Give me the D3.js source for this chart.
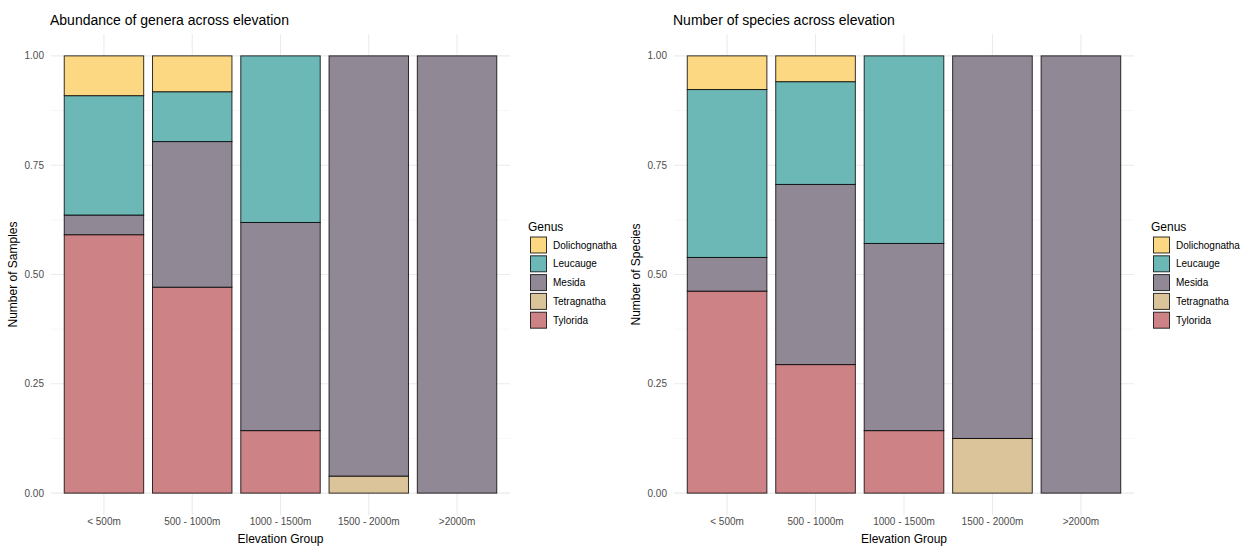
<!DOCTYPE html>
<html>
<head>
<meta charset="utf-8">
<script src="https://cdn.jsdelivr.net/npm/d3@7"></script>
<style>
  html, body { margin: 0; padding: 0; background: #fff; }
  svg { display: block; font-family: "Liberation Sans", Arial, sans-serif; }
</style>
</head>
<body>
<svg id="chart" width="1250" height="550"></svg>
<script>
// Elevation bands shown on the x axis
const elevations = ["< 500m", "500 - 1000m", "1000 - 1500m", "1500 - 2000m", ">2000m"];
// Genera, bottom of the stack first
const genera = ["Tylorida", "Tetragnatha", "Mesida", "Leucauge", "Dolichognatha"];
const legendOrder = ["Dolichognatha", "Leucauge", "Mesida", "Tetragnatha", "Tylorida"];
const genusColors = ["#cd8286", "#dbc39a", "#918896", "#6cb8b6", "#fdd882"];

// Proportion of samples per genus in each elevation band
const abundTylorida      = [0.591, 0.471, 0.143, 0.000, 0.000];
const abundTetragnatha   = [0.000, 0.000, 0.000, 0.039, 0.000];
const abundMesida        = [0.045, 0.333, 0.476, 0.961, 1.000];
const abundLeucauge      = [0.273, 0.114, 0.381, 0.000, 0.000];
const abundDolichognatha = [0.091, 0.082, 0.000, 0.000, 0.000];

// Proportion of species per genus in each elevation band
const richTylorida      = [0.462, 0.294, 0.143, 0.000, 0.000];
const richTetragnatha   = [0.000, 0.000, 0.000, 0.125, 0.000];
const richMesida        = [0.077, 0.412, 0.428, 0.875, 1.000];
const richLeucauge      = [0.384, 0.235, 0.429, 0.000, 0.000];
const richDolichognatha = [0.077, 0.059, 0.000, 0.000, 0.000];

const yTicks = [0, 0.25, 0.5, 0.75, 1];
const yTickLabels = ["0.00", "0.25", "0.50", "0.75", "1.00"];

function buildRows(series) {
  return elevations.map((e, i) => {
    const row = { elevation: e };
    genera.forEach(g => { row[g] = series[g][i]; });
    return row;
  });
}

const svg = d3.select("#chart");
const color = d3.scaleOrdinal().domain(genera).range(genusColors);

function drawPanel(opts) {
  const { x0, x1, y0, y1, title, yTitle, rows, legendX } = opts;
  const g = svg.append("g");

  const x = d3.scalePoint().domain(elevations).range([x0, x1]).padding(0.6);
  const step = x.step();
  const barW = step * 0.9;
  const span = (y1 - y0) / 1.1;
  const y = d3.scaleLinear().domain([0, 1]).range([y1 - span * 0.05, y0 + span * 0.05]);

  // minor grid
  const minor = [0.125, 0.375, 0.625, 0.875];
  g.selectAll(".gminor").data(minor).join("line")
    .attr("x1", x0).attr("x2", x1)
    .attr("y1", d => y(d)).attr("y2", d => y(d))
    .attr("stroke", "#f2f2f2").attr("stroke-width", 0.6);
  // major grid
  g.selectAll(".gmajor").data(yTicks).join("line")
    .attr("x1", x0).attr("x2", x1)
    .attr("y1", d => y(d)).attr("y2", d => y(d))
    .attr("stroke", "#ebebeb").attr("stroke-width", 1.1);
  g.selectAll(".gx").data(elevations).join("line")
    .attr("x1", d => x(d)).attr("x2", d => x(d))
    .attr("y1", y0).attr("y2", y1)
    .attr("stroke", "#ebebeb").attr("stroke-width", 1.1);

  // stacked bars
  const stack = d3.stack().keys(genera)(rows);
  stack.forEach(layer => {
    g.append("g").selectAll("rect")
      .data(layer.filter(d => d[1] - d[0] > 0))
      .join("rect")
      .attr("x", d => x(d.data.elevation) - barW / 2)
      .attr("width", barW)
      .attr("y", d => y(d[1]))
      .attr("height", d => y(d[0]) - y(d[1]))
      .attr("fill", color(layer.key))
      .attr("stroke", "#000")
      .attr("stroke-opacity", 0.8)
      .attr("stroke-width", 1);
  });

  // y tick labels
  g.selectAll(".ylab").data(yTicks).join("text")
    .attr("x", x0 - 7).attr("y", d => y(d))
    .attr("dy", "0.35em").attr("text-anchor", "end")
    .attr("font-size", 10).attr("fill", "#4d4d4d")
    .text((d, i) => yTickLabels[i]);

  // x tick labels
  g.selectAll(".xlab").data(elevations).join("text")
    .attr("x", d => x(d)).attr("y", y1 + 10)
    .attr("text-anchor", "middle")
    .attr("font-size", 10).attr("fill", "#4d4d4d")
    .text(d => d);

  // axis titles
  g.append("text")
    .attr("x", (x0 + x1) / 2).attr("y", y1 + 28)
    .attr("text-anchor", "middle").attr("font-size", 12).attr("fill", "#000")
    .text("Elevation Group");
  g.append("text")
    .attr("transform", `translate(${x0 - 34},${(y0 + y1) / 2}) rotate(-90)`)
    .attr("text-anchor", "middle").attr("font-size", 12).attr("fill", "#000")
    .text(yTitle);

  // title
  g.append("text")
    .attr("x", x0 - 1).attr("y", 25)
    .attr("font-size", 14).attr("fill", "#000")
    .text(title);

  // legend
  const lg = g.append("g").attr("transform", `translate(${legendX},0)`);
  lg.append("text").attr("x", 0).attr("y", 231)
    .attr("font-size", 12).attr("fill", "#000").text("Genus");
  legendOrder.forEach((k, i) => {
    const top = 237 + i * 18.8;
    lg.append("rect")
      .attr("x", 2.5).attr("y", top)
      .attr("width", 16).attr("height", 16)
      .attr("fill", color(k)).attr("stroke", "#000")
      .attr("stroke-opacity", 0.8).attr("stroke-width", 1);
    lg.append("text")
      .attr("x", 25).attr("y", top + 8)
      .attr("dy", "0.35em").attr("font-size", 10).attr("fill", "#000")
      .text(k);
  });
}

drawPanel({
  x0: 51, x1: 510, y0: 34, y1: 515,
  title: "Abundance of genera across elevation",
  yTitle: "Number of Samples",
  legendX: 528,
  rows: buildRows({
    Tylorida: abundTylorida, Tetragnatha: abundTetragnatha, Mesida: abundMesida,
    Leucauge: abundLeucauge, Dolichognatha: abundDolichognatha
  })
});

drawPanel({
  x0: 674, x1: 1134, y0: 34, y1: 515,
  title: "Number of species across elevation",
  yTitle: "Number of Species",
  legendX: 1151,
  rows: buildRows({
    Tylorida: richTylorida, Tetragnatha: richTetragnatha, Mesida: richMesida,
    Leucauge: richLeucauge, Dolichognatha: richDolichognatha
  })
});
</script>
</body>
</html>
